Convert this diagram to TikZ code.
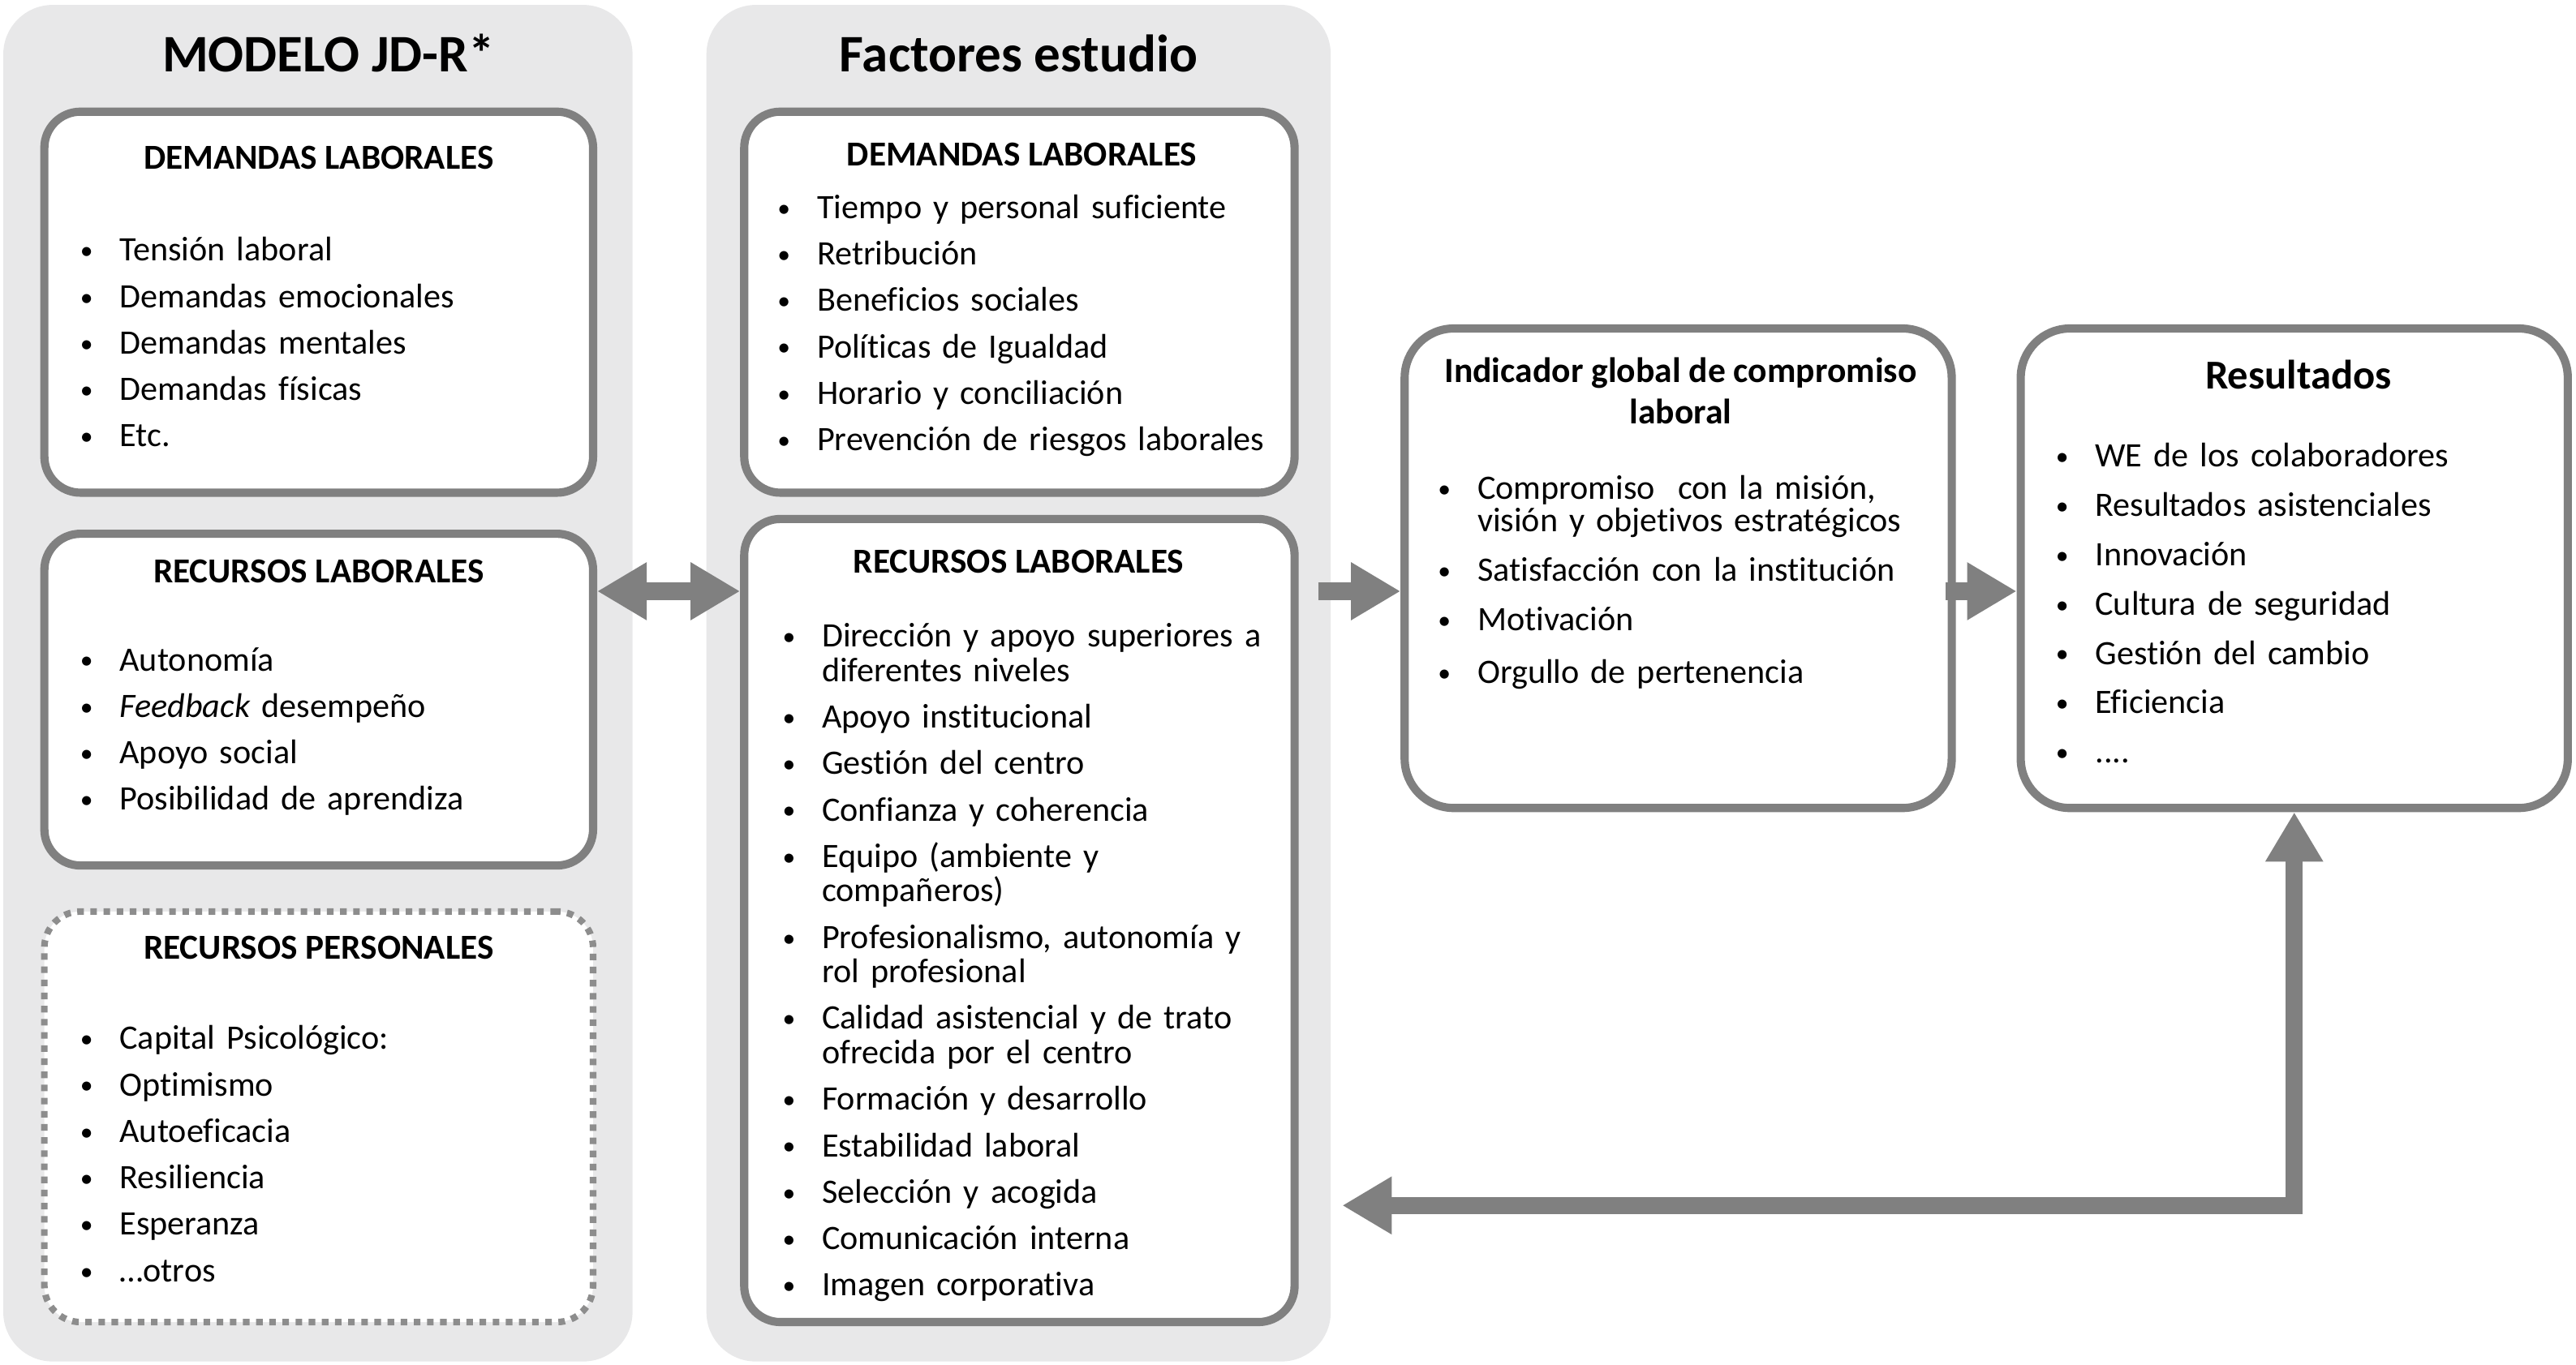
\documentclass[tikz,border=0pt]{standalone}
\usepackage{fontspec}
\setmainfont{Carlito}[Ligatures=NoCommon]
\usetikzlibrary{arrows.meta,calc}
\newlength\px
\setlength\px{0.2025mm}
\definecolor{panelgray}{RGB}{232,232,233}
\definecolor{linegray}{RGB}{128,128,128}
\newcommand{\bul}{\par\noindent\hangindent=24\px\hangafter=1\makebox[24\px][l]{\raisebox{0.6pt}{\fontsize{9}{9}\selectfont\textbullet}}\strut}
\newcommand{\itemgap}[1]{\setlength{\parskip}{#1}\setlength{\lineskiplimit}{-5pt}}

\begin{document}
\begin{tikzpicture}[x=0.2025mm,y=-0.2025mm,>={Triangle[length=6.1mm,width=6.7mm]},
  panel/.style={fill=panelgray,rounded corners=30\px,minimum width=383\px,minimum height=826\px,inner sep=0pt},
  box/.style={draw=linegray,fill=white,line width=5\px,rounded corners=22\px,inner sep=0pt},
  dotbox/.style={box,draw=linegray!90,line width=4\px,dash pattern=on 4\px off 4\px},
  bigbox/.style={box,rounded corners=30\px,minimum width=333\px,minimum height=292\px},
  ttl/.style={anchor=base,font=\fontsize{18.5}{22}\selectfont\bfseries},
  hdr/.style={anchor=base,font=\fontsize{12.3}{14}\selectfont\bfseries},
  lst/.style={anchor=north west,inner sep=0pt,text width=310\px,font=\fontsize{12}{12.1}\selectfont},
  rlst/.style={lst,font=\fontsize{12}{11.5}\selectfont},
  flow/.style={draw=linegray,line width=11\px,->}]
\useasboundingbox (0,0) rectangle (1568,831);
\node[panel] (p1) at (193.5,416) {};
\node[panel,minimum width=380\px] (p2) at (620,416) {};
\node[ttl] (t1) at (200,43.5) {MODELO JD-R*};
\node[ttl] (t2) at (620,43.5) {Factores estudio};

\node[box,minimum width=334\px,minimum height=232\px] (dl1) at (194,184) {};
\node[box,minimum width=334\px,minimum height=202\px] (rl1) at (194,426) {};
\node[dotbox,minimum width=334\px,minimum height=250\px] (rp1) at (194,680) {};
\node[box,minimum width=335\px,minimum height=232\px] (dl2) at (620.5,184) {};
\node[box,minimum width=335\px,minimum height=489\px] (rl2) at (620.5,560.5) {};
\node[bigbox] (ind) at (1021.5,346) {};
\node[bigbox] (res) at (1396.5,346) {};

\node[hdr] (dl1h) at (194,102.8) {DEMANDAS LABORALES};
\node[hdr] (rl1h) at (194,354.8) {RECURSOS LABORALES};
\node[hdr] (rp1h) at (194,583.8) {RECURSOS PERSONALES};
\node[hdr] (dl2h) at (622,100.8) {DEMANDAS LABORALES};
\node[hdr] (rl2h) at (620,348.8) {RECURSOS LABORALES};
\node[hdr,font=\fontsize{12.4}{14.4}\selectfont\bfseries,align=center] (indh) at (1023,258) {Indicador global de compromiso\\laboral};
\node[hdr,font=\fontsize{14.4}{16}\selectfont\bfseries] (resh) at (1399,237) {Resultados};

\node[lst] (dl1l) at (48.5,130.3) {\itemgap{4.2pt}\bul Tensión laboral \bul Demandas emocionales \bul Demandas mentales \bul Demandas físicas \bul Etc.};
\node[lst] (rl1l) at (48.5,379.8) {\itemgap{4.2pt}\bul Autonomía \bul \textit{Feedback} desempeño \bul Apoyo social \bul Posibilidad de aprendiza};
\node[lst] (rp1l) at (48.5,610.3) {\itemgap{4.2pt}\bul Capital Psicológico: \bul Optimismo \bul Autoeficacia \bul Resiliencia \bul Esperanza \bul …otros};
\node[lst] (dl2l) at (473,104.3) {\itemgap{4.2pt}\bul Tiempo y personal suficiente \bul Retribución \bul Beneficios sociales \bul Políticas de Igualdad \bul Horario y conciliación \bul Prevención de riesgos laborales};
\node[lst] (rl2l) at (476,365.3) {\itemgap{4.2pt}\bul Dirección y apoyo superiores a\newline diferentes niveles \bul Apoyo institucional \bul Gestión del centro \bul Confianza y coherencia \bul Equipo (ambiente y\newline compañeros) \bul Profesionalismo, autonomía y\newline rol profesional \bul Calidad asistencial y de trato\newline ofrecida por el centro \bul Formación y desarrollo \bul Estabilidad laboral \bul Selección y acogida \bul Comunicación interna \bul Imagen corporativa};
\node[rlst] (indl) at (875,273.4) {\itemgap{5.8pt}\bul Compromiso\ \ con la misión,\newline visión y objetivos estratégicos \bul Satisfacción con la institución \bul Motivación \bul Orgullo de pertenencia};
\node[rlst] (resl) at (1251,254) {\itemgap{5.8pt}\bul WE de los colaboradores \bul Resultados asistenciales \bul Innovación \bul Cultura de seguridad \bul Gestión del cambio \bul Eficiencia \bul ....};

\coordinate (mid) at (0,360);
\coordinate (fb) at (817,734);
\draw[flow,<->] (rl1.east |- mid) -- (rl2.west |- mid);
\draw[flow] ($(p2.east |- mid)+(-8,0)$) -- (ind.west |- mid);
\draw[flow] ($(ind.east |- mid)+(-6,0)$) -- (res.west |- mid);
\draw[flow,<->,line width=10.5\px] (fb) -| (res.south);
\end{tikzpicture}
\end{document}
